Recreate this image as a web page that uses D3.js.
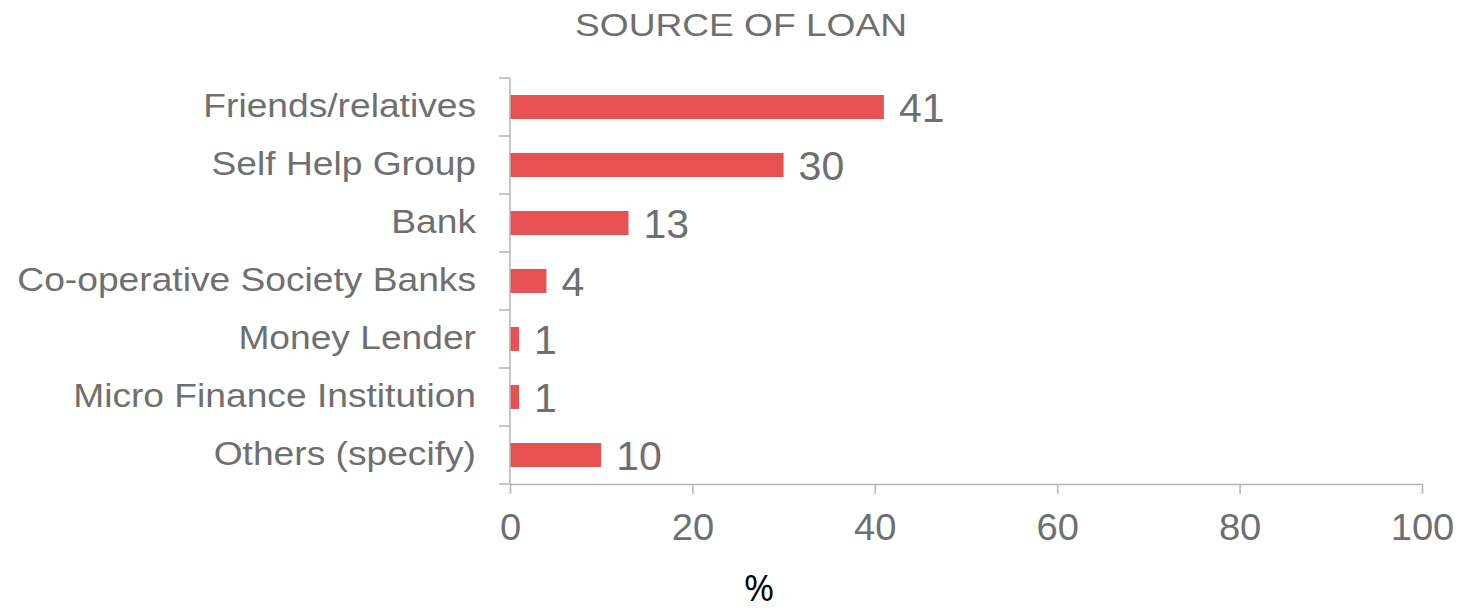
<!DOCTYPE html>
<html>
<head>
<meta charset="utf-8">
<script src="https://cdn.jsdelivr.net/npm/d3@7"></script>
<style>
  html, body { margin: 0; padding: 0; background: #fff; }
  svg { display: block; font-family: "Liberation Sans", Arial, sans-serif; }
</style>
</head>
<body>
<svg id="chart" width="1483" height="610"></svg>
<script>
// Loan sources and their share of respondents (%)
const categories = [
  "Friends/relatives",
  "Self Help Group",
  "Bank",
  "Co-operative Society Banks",
  "Money Lender",
  "Micro Finance Institution",
  "Others (specify)"
];
const values = [41, 30, 13, 4, 1, 1, 10];
const xTicks = [0, 20, 40, 60, 80, 100];

const svg = d3.select("#chart");
const plotLeft = 510, plotRight = 1422, plotTop = 78, plotBottom = 484;
const grey = "#6f6f6f";
const axisColor = "#b3b3b3";

const x = d3.scaleLinear().domain([0, 100]).range([plotLeft, plotRight]);
const y = d3.scaleBand().domain(categories).range([plotTop, plotBottom]).paddingInner(0.586).paddingOuter(0.293);

// Title (slightly widened lettering)
svg.append("text")
  .attr("transform", "translate(741,36) scale(1.16,1)")
  .attr("text-anchor", "middle")
  .attr("fill", grey)
  .style("font-size", "32px")
  .text("SOURCE OF LOAN");

// Bars
svg.append("g").selectAll("rect")
  .data(values)
  .join("rect")
  .attr("x", x(0))
  .attr("y", (d, i) => y(categories[i]))
  .attr("width", d => x(d) - x(0))
  .attr("height", y.bandwidth())
  .attr("fill", "#e85151");

// Value labels
svg.append("g").selectAll("text")
  .data(values)
  .join("text")
  .attr("x", d => x(d) + 15)
  .attr("y", (d, i) => y(categories[i]) + y.bandwidth() / 2 + 1)
  .attr("dy", "0.35em")
  .attr("fill", grey)
  .style("font-size", "41px")
  .text(d => d);

// Y axis: line with ticks at category boundaries
const step = (plotBottom - plotTop) / categories.length;
const yAxis = svg.append("g");
yAxis.append("line")
  .attr("x1", plotLeft).attr("x2", plotLeft)
  .attr("y1", plotTop).attr("y2", plotBottom)
  .attr("stroke", axisColor).attr("stroke-width", 1.5);
yAxis.selectAll("line.tick")
  .data(d3.range(categories.length + 1))
  .join("line")
  .attr("class", "tick")
  .attr("x1", plotLeft - 11).attr("x2", plotLeft)
  .attr("y1", i => plotTop + i * step).attr("y2", i => plotTop + i * step)
  .attr("stroke", axisColor).attr("stroke-width", 1.5);
yAxis.selectAll("text")
  .data(categories)
  .join("text")
  .attr("transform", d => `translate(${plotLeft - 34},${y(d) + y.bandwidth() / 2 - 1.5}) scale(1.11,1)`)
  .attr("dy", "0.35em")
  .attr("text-anchor", "end")
  .attr("fill", grey)
  .style("font-size", "33.5px")
  .text(d => d);

// X axis
const xAxis = svg.append("g").attr("transform", `translate(0,${plotBottom})`)
  .call(d3.axisBottom(x).tickValues(xTicks).tickSize(10).tickPadding(20).tickSizeOuter(0));
xAxis.select(".domain").attr("stroke", axisColor).attr("stroke-width", 1.5);
xAxis.selectAll(".tick line").attr("stroke", axisColor).attr("stroke-width", 1.5);
xAxis.selectAll(".tick text")
  .attr("fill", grey)
  .attr("transform", "scale(1.06,1)")
  .style("font-size", "36px")
  .style("font-family", "'Liberation Sans', Arial, sans-serif");

// X axis title
svg.append("text")
  .attr("x", 759).attr("y", 601)
  .attr("text-anchor", "middle")
  .attr("fill", "#000")
  .style("font-family", "'Open Sans', 'Liberation Sans', sans-serif")
  .style("font-size", "37px")
  .text("%");
</script>
</body>
</html>
